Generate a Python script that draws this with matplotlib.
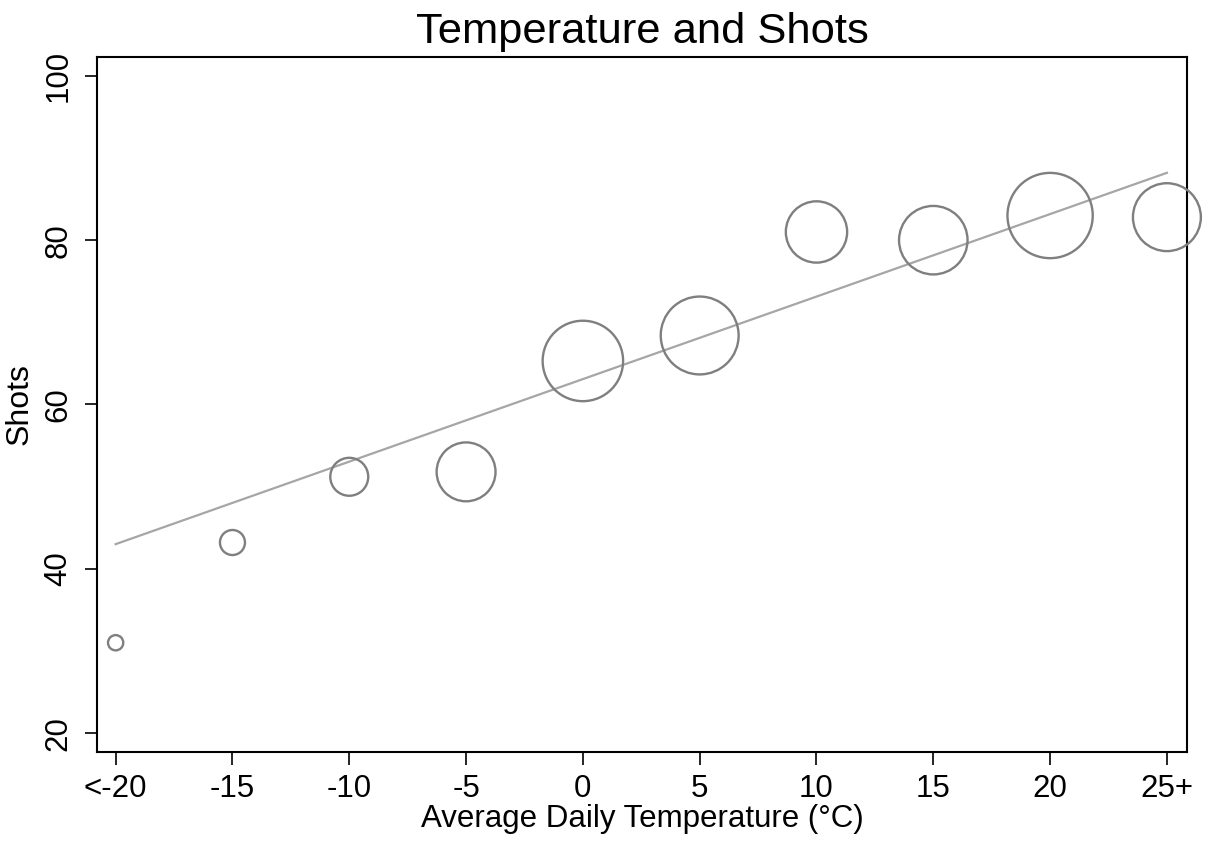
import numpy as np
import matplotlib.pyplot as plt

plt.rcParams['font.family'] = ['Liberation Sans', 'DejaVu Sans']

# binned average daily temperature (deg C)
temp = [-20, -15, -10, -5, 0, 5, 10, 15, 20, 25]
tick_labels = ['<-20', '-15', '-10', '-5', '0', '5', '10', '15', '20', '25+']
# mean shots per bin
shots = [31.0, 43.2, 51.2, 51.8, 65.3, 68.4, 81.0, 80.0, 83.0, 82.8]
# relative number of days in each bin (bubble weight)
weight = [3.2, 8.6, 19.8, 47.7, 89.0, 83.4, 51.7, 64.5, 100.0, 63.4]
# fitted line end points
fit_x = [-20, 25]
fit_y = [43.0, 88.2]

fig = plt.figure(figsize=(12.09, 8.44), dpi=100)
ax = fig.add_axes([0.0802, 0.109, 0.9016, 0.8235])

ax.scatter(temp, shots, s=np.array(weight) * 37.7, facecolors='none',
           edgecolors='#7f7f7f', linewidths=1.7, zorder=3, clip_on=False)
ax.plot(fit_x, fit_y, color='#a6a6a6', lw=1.6, zorder=2)

ax.set_xlim(-20.8, 25.86)
ax.set_ylim(17.7, 102.3)
ax.set_xticks(temp)
ax.set_xticklabels(tick_labels)
ax.set_yticks([20, 40, 60, 80, 100])

for s in ax.spines.values():
    s.set_linewidth(1.5)
ax.tick_params(axis='both', length=9, width=1.2, labelsize=22.5, pad=7)
ax.tick_params(axis='y', pad=8)
plt.setp(ax.get_yticklabels(), rotation=90, va='center')

ax.set_title('Temperature and Shots', fontsize=31.3, pad=10)
ax.set_xlabel('Average Daily Temperature (°C)', fontsize=22.5, labelpad=0)
ax.set_ylabel('Shots', fontsize=23, labelpad=6)

fig.savefig('out.png', dpi=100)
